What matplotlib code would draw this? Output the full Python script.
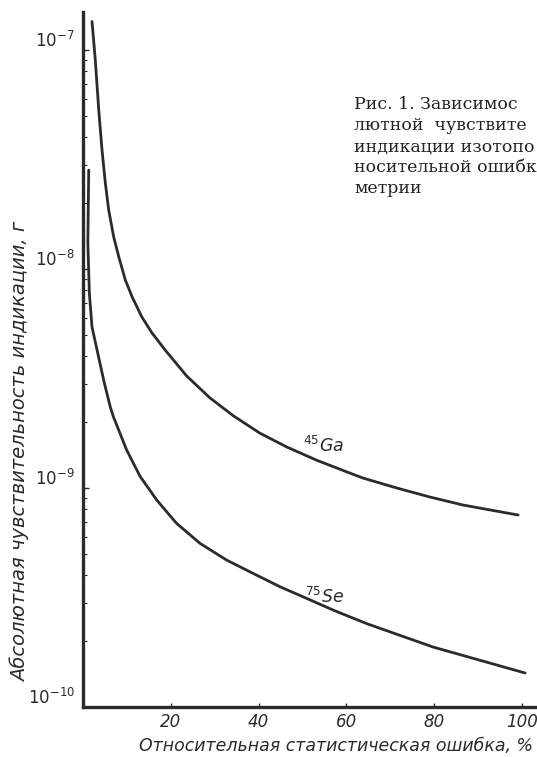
import numpy as np
import matplotlib.pyplot as plt
import matplotlib.transforms as mtransforms
from matplotlib.ticker import LogLocator, FixedLocator, NullFormatter

plt.rcParams['font.family'] = ['DejaVu Sans']
plt.rcParams['mathtext.default'] = 'it'

# 45Ga curve
ga_err = [2.05, 2.80, 3.58, 4.33, 5.08, 5.85, 6.99, 8.13, 9.64, 11.2, 13.4,
          15.7, 18.7, 23.6, 28.9, 34.2, 40.3, 46.4, 53.2, 60.8, 63.8,
          71.5, 79.0, 86.6, 99.1]
ga_sens = [1.35e-7, 8.99e-8, 5.32e-8, 3.49e-8, 2.47e-8, 1.86e-8, 1.40e-8,
           1.14e-8, 8.91e-9, 7.45e-9, 6.04e-9, 5.11e-9, 4.27e-9,
           3.25e-9, 2.58e-9, 2.14e-9, 1.78e-9, 1.54e-9, 1.34e-9, 1.17e-9,
           1.11e-9, 1.00e-9, 9.1e-10, 8.36e-10, 7.53e-10]

# 75Se curve
se_err = [1.30, 1.10, 1.44, 2.05, 4.80, 6.22, 6.90, 9.95, 13.0,
          16.8, 21.3, 26.7, 32.7, 38.8, 44.9, 51.0, 57.0, 60.8, 64.7, 79.7,
          100.7]
se_sens = [2.83e-8, 1.32e-8, 7.76e-9, 5.43e-9, 3.05e-9,
           2.34e-9, 2.12e-9, 1.49e-9, 1.13e-9, 8.81e-10, 6.90e-10, 5.58e-10,
           4.69e-10, 4.07e-10, 3.54e-10, 3.13e-10, 2.77e-10, 2.58e-10,
           2.40e-10, 1.88e-10, 1.43e-10]

x_ticks = [20, 40, 60, 80, 100]
y_ticks = [1e-10, 1e-9, 1e-8, 1e-7]
y_ticklabels = ['$10^{-10}$', '$10^{-9}$', '$10^{-8}$', '$10^{-7}$']

caption = ['Рис. 1. Зависимос', 'лютной  чувствите', 'индикации изотопо',
           'носительной ошибк', 'метрии']

ink = '#2b2b2b'

fig = plt.figure(figsize=(5.37, 7.57), dpi=100)
ax = fig.add_axes([0.1546, 0.066, 0.8454, 0.918])

ax.semilogy(ga_err, ga_sens, color=ink, lw=2.0, solid_capstyle='round',
            solid_joinstyle='round')
ax.semilogy(se_err, se_sens, color=ink, lw=2.0, solid_capstyle='round',
            solid_joinstyle='round')

ax.set_xlim(0, 103.4)
ax.set_ylim(1e-10, 1.49e-7)

for side in ['top', 'right']:
    ax.spines[side].set_visible(False)
for side in ['left', 'bottom']:
    ax.spines[side].set_linewidth(2.4)
    ax.spines[side].set_color(ink)

ax.xaxis.set_major_locator(FixedLocator(x_ticks))
ax.set_xticklabels([str(t) for t in x_ticks])
ax.yaxis.set_major_locator(FixedLocator(y_ticks))
ax.set_yticklabels(y_ticklabels)
ax.yaxis.set_minor_locator(LogLocator(base=10, subs=np.arange(2, 10)))
ax.yaxis.set_minor_formatter(NullFormatter())

ax.tick_params(axis='x', direction='in', length=3, width=1, colors=ink,
               labelsize=12, pad=4)
ax.tick_params(axis='y', which='major', direction='in', length=4, width=1,
               colors=ink, labelsize=12, pad=6)
ax.tick_params(axis='y', which='minor', direction='in', length=3, width=0.8,
               colors=ink)
for lab in ax.get_xticklabels():
    lab.set_fontstyle('italic')

# y tick labels sit a little above their ticks in the original
shift = mtransforms.ScaledTranslation(0, 8 / 72, fig.dpi_scale_trans)
for lab in ax.get_yticklabels():
    lab.set_transform(lab.get_transform() + shift)

ax.set_xlabel('Относительная статистическая ошибка, %', fontsize=12.5,
              fontstyle='italic', color=ink)
ax.set_ylabel('Абсолютная чувствительность индикации, г', fontsize=14,
              fontstyle='italic', color=ink)
ax.yaxis.set_label_coords(-0.116, 0.367)
ax.xaxis.set_label_coords(0.557, -0.043)

ax.text(50.1, 1.46e-9, '$^{45}$Ga', fontsize=12.5, fontstyle='italic',
        color=ink)
ax.text(50.6, 2.98e-10, '$^{75}$Se', fontsize=12.5, fontstyle='italic',
        color=ink)

for i, line in enumerate(caption):
    fig.text(354 / 537, 1 - (109 + 21 * i) / 757, line, fontsize=12.5,
             family='DejaVu Serif', color='#222222')

fig.savefig('out.png', dpi=100)
